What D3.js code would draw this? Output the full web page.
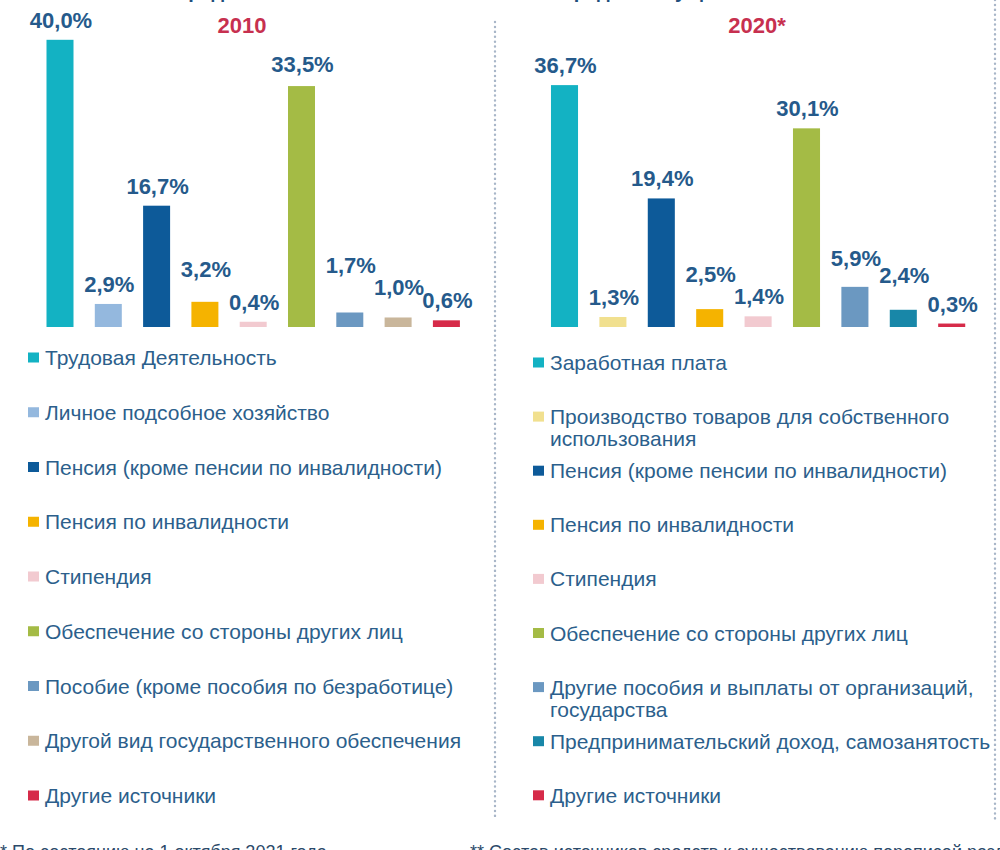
<!DOCTYPE html>
<html>
<head>
<meta charset="utf-8">
<script src="https://cdn.jsdelivr.net/npm/d3@7"></script>
<style>
  html, body { margin: 0; padding: 0; background: #fff; }
  svg { display: block; }
</style>
</head>
<body>
<svg id="chart" width="1000" height="850"></svg>
<script>
// ---------- DATA ----------
const years = ["2010", "2020*"];

const categories2010 = [
  "Трудовая Деятельность",
  "Личное подсобное хозяйство",
  "Пенсия (кроме пенсии по инвалидности)",
  "Пенсия по инвалидности",
  "Стипендия",
  "Обеспечение со стороны других лиц",
  "Пособие (кроме пособия по безработице)",
  "Другой вид государственного обеспечения",
  "Другие источники"
];
const values2010 = [40.0, 2.9, 16.7, 3.2, 0.4, 33.5, 1.7, 1.0, 0.6];

const categories2020 = [
  ["Заработная плата"],
  ["Производство товаров для собственного", "использования"],
  ["Пенсия (кроме пенсии по инвалидности)"],
  ["Пенсия по инвалидности"],
  ["Стипендия"],
  ["Обеспечение со стороны других лиц"],
  ["Другие пособия и выплаты от организаций,", "государства"],
  ["Предпринимательский доход, самозанятость"],
  ["Другие источники"]
];
const values2020 = [36.7, 1.3, 19.4, 2.5, 1.4, 30.1, 5.9, 2.4, 0.3];

const colors2010 = ["#13b2c3", "#94b8de", "#0d5a99", "#f5b300", "#f2cad0", "#a4bb45", "#6b98c1", "#c9b69b", "#d62b49"];
const colors2020 = ["#13b2c3", "#f1e08f", "#0d5a99", "#f5b300", "#f2cad0", "#a4bb45", "#6b98c1", "#1887a8", "#d62b49"];

const footnotes = [
  "* По состоянию на 1 октября 2021 года",
  "** Состав источников средств к существованию переписей различается"
];
const titleText = "Распределение населения по источникам средств к существованию**";

// ---------- DRAW ----------
const svg = d3.select("#chart");
svg.append("rect").attr("width", 1000).attr("height", 850).attr("fill", "#fff");

const labelColor = "#255a8b";
const legendColor = "#2c5f8c";
const yearColor = "#c7304f";
const fontFam = "'Liberation Sans', Arial, sans-serif";
const baseline = 327;

// extra lift of a few value labels (layout only), to keep them from colliding
const labelLift2010 = [0, 0, 0, 13, 0, 2, 27, 10, 0];
const labelLift2020 = [0, 0, 0, 15, 0, 0, 9, 15, 0];

// cut-off title at the very top
svg.append("text")
  .attr("x", 490).attr("y", -2)
  .attr("text-anchor", "middle")
  .attr("font-family", fontFam).attr("font-weight", "bold").attr("font-size", 20)
  .attr("fill", "#1f4f7c")
  .text(titleText);

// dotted dividers
const dotLine = (x, y1, y2) => svg.append("line")
  .attr("x1", x).attr("x2", x).attr("y1", y1).attr("y2", y2)
  .attr("stroke", "#a8b6c8").attr("stroke-width", 2.4)
  .attr("stroke-linecap", "round").attr("stroke-dasharray", "0.1,4.8");
dotLine(495, 22, 820);
dotLine(995, 0, 820);

const panels = [
  {
    year: years[0], yearX: 242,
    cats: categories2010.map(c => [c]), vals: values2010, cols: colors2010, lift: labelLift2010,
    xRange: [35.85, 470.55],
    y: d3.scaleLinear().domain([0, 40]).range([324.6, 39.8]),
    legX: 28, legY0: 365, legStep: 54.75
  },
  {
    year: years[1], yearX: 757,
    cats: categories2020, vals: values2020, cols: colors2020, lift: labelLift2020,
    xRange: [540.3, 975.9],
    y: d3.scaleLinear().domain([0, 40]).range([325.5, 63.5]),
    legX: 533, legY0: 370, legStep: 54.1
  }
];

panels.forEach(p => {
  const idx = d3.range(p.vals.length);
  const x = d3.scaleBand().domain(idx).range(p.xRange).paddingInner(0.441).paddingOuter(0.2205);
  const g = svg.append("g");

  // year header
  g.append("text")
    .attr("x", p.yearX).attr("y", 33)
    .attr("text-anchor", "middle")
    .attr("font-family", fontFam).attr("font-weight", "bold").attr("font-size", 22)
    .attr("fill", yearColor)
    .text(p.year);

  // bars
  g.selectAll("rect.bar").data(idx).join("rect")
    .attr("class", "bar")
    .attr("x", i => x(i))
    .attr("width", x.bandwidth())
    .attr("y", i => p.y(p.vals[i]))
    .attr("height", i => baseline - p.y(p.vals[i]))
    .attr("fill", i => p.cols[i]);

  // value labels
  g.selectAll("text.val").data(idx).join("text")
    .attr("class", "val")
    .attr("x", i => x(i) + x.bandwidth() / 2 + 1)
    .attr("y", i => p.y(p.vals[i]) - 12 - p.lift[i])
    .attr("text-anchor", "middle")
    .attr("font-family", fontFam).attr("font-weight", "bold").attr("font-size", 22)
    .attr("fill", labelColor)
    .text(i => p.vals[i].toFixed(1).replace(".", ",") + "%");

  // legend
  idx.forEach(i => {
    const by = p.legY0 + i * p.legStep;
    g.append("rect")
      .attr("x", p.legX).attr("y", by - 12.5)
      .attr("width", 11).attr("height", 10)
      .attr("fill", p.cols[i]);
    const t = g.append("text")
      .attr("x", p.legX + 17).attr("y", by)
      .attr("font-family", fontFam).attr("font-size", 21)
      .attr("fill", legendColor);
    p.cats[i].forEach((line, k) => {
      t.append("tspan").attr("x", p.legX + 17).attr("dy", k === 0 ? 0 : 22).text(line);
    });
  });
});

// cut-off footnotes
svg.append("text").attr("x", 0).attr("y", 858)
  .attr("font-family", fontFam).attr("font-size", 18).attr("fill", "#2b4a6a")
  .text(footnotes[0]);
svg.append("text").attr("x", 470).attr("y", 858)
  .attr("font-family", fontFam).attr("font-size", 18).attr("fill", "#2b4a6a")
  .text(footnotes[1]);
</script>
</body>
</html>
